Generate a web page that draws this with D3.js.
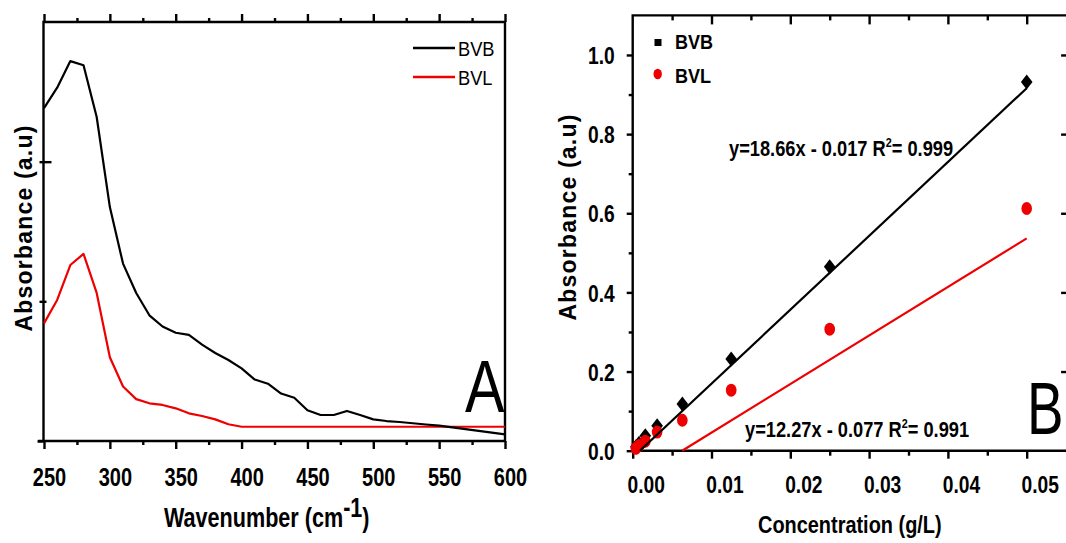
<!DOCTYPE html>
<html>
<head>
<meta charset="utf-8">
<script src="https://cdn.jsdelivr.net/npm/d3@7"></script>
<style>
  html, body { margin: 0; padding: 0; background: #fff; }
  svg { display: block; }
  text { font-family: "Liberation Sans", Arial, sans-serif; fill: #000; }
</style>
</head>
<body>
<script>
// ---------- Panel A: UV-Vis spectra ----------
const wavenumbers = [250, 260, 270, 280, 290, 300, 310, 320, 330, 340, 350, 360, 370, 380, 390, 400,
  410, 420, 430, 440, 450, 460, 470, 480, 490, 500, 510, 520, 530, 540, 550, 560, 570, 580, 590, 600];
const spectrumBVB = [2.384, 2.53, 2.72, 2.69, 2.32, 1.675, 1.27, 1.06, 0.90, 0.82, 0.775, 0.76, 0.69, 0.63, 0.58, 0.52,
  0.44, 0.41, 0.34, 0.31, 0.22, 0.186, 0.186, 0.215, 0.186, 0.155, 0.143, 0.136, 0.127, 0.118, 0.11, 0.097, 0.085, 0.072, 0.06, 0.048];
const spectrumBVL = [0.842, 1.01, 1.26, 1.34, 1.06, 0.60, 0.39, 0.30, 0.27, 0.258, 0.234, 0.198, 0.179, 0.155, 0.12, 0.102,
  0.102, 0.102, 0.102, 0.102, 0.102, 0.102, 0.102, 0.102, 0.102, 0.102, 0.102, 0.102, 0.102, 0.102, 0.102, 0.102, 0.102, 0.102, 0.102, 0.102];
const wnMajorTicks = [250, 300, 350, 400, 450, 500, 550, 600];
const wnMinorTicks = [275, 325, 375, 425, 475, 525, 575];
const absTicksA = [0, 1, 2];

// ---------- Panel B: calibration ----------
const concentrations = [0.0004, 0.0008, 0.0016, 0.0031, 0.0063, 0.0125, 0.025, 0.05];
const calibBVB = [0.010, 0.019, 0.038, 0.063, 0.118, 0.232, 0.465, 0.932];
const calibBVL = [0.006, 0.013, 0.024, 0.047, 0.077, 0.153, 0.307, 0.612];
const fitSlopes = [18.66, 12.27];
const fitIntercepts = [-0.017, -0.077];
const fitR2 = [0.999, 0.991];
const concMajorTicks = [0, 0.01, 0.02, 0.03, 0.04, 0.05];
const concMinorTicks = [0.005, 0.015, 0.025, 0.035, 0.045];
const concTickLabels = ["0.00", "0.01", "0.02", "0.03", "0.04", "0.05"];
const absMajorTicksB = [0, 0.2, 0.4, 0.6, 0.8, 1.0];
const absMinorTicksB = [0.1, 0.3, 0.5, 0.7, 0.9];
const seriesNames = ["BVB", "BVL"];
const seriesColors = ["#000000", "#ee0000"];

const SX = 0.8;          // horizontal condensing of the typeface
const AXIS_W = 2.4;
const FONT = '"Liberation Sans", Arial, sans-serif';

const svg = d3.select("body").append("svg").attr("width", 1066).attr("height", 543);

function styleAxis(g) {
  g.select(".domain").remove();
  g.selectAll(".tick line").attr("stroke", "#000").attr("stroke-width", AXIS_W);
}
function hText(parent, x, y, str, size, weight, sx = SX, anchor = "start") {
  return parent.append("text")
    .attr("transform", `translate(${x},${y}) scale(${sx},1)`)
    .attr("text-anchor", anchor)
    .style("font-size", size + "px")
    .style("font-weight", weight)
    .text(str);
}

// ===== Panel A =====
const xA = d3.scaleLinear().domain([250, 600]).range([44, 505]);
const yA = d3.scaleLinear().domain([0, 3]).range([441, 22]);
const gA = svg.append("g");

// bottom axis, major + minor ticks
const axA = gA.append("g").attr("transform", `translate(0,${yA(0)})`)
  .call(d3.axisBottom(xA).tickValues(wnMajorTicks).tickSize(8).tickSizeOuter(0).tickFormat(d3.format("d")));
styleAxis(axA);
axA.selectAll(".tick text")
  .attr("transform", `scale(${SX},1)`).attr("x", 5 / SX).attr("y", 45).attr("dy", 0)
  .style("font-size", "25px").style("font-weight", "bold").style("font-family", FONT).attr("fill", "#000");
styleAxis(gA.append("g").attr("transform", `translate(0,${yA(0)})`)
  .call(d3.axisBottom(xA).tickValues(wnMinorTicks).tickSize(4).tickSizeOuter(0).tickFormat("")));
// top axis, ticks pointing outward
styleAxis(gA.append("g").attr("transform", `translate(0,${yA.range()[1]})`)
  .call(d3.axisTop(xA).tickValues(wnMajorTicks).tickSize(8).tickSizeOuter(0).tickFormat("")));
styleAxis(gA.append("g").attr("transform", `translate(0,${yA.range()[1]})`)
  .call(d3.axisTop(xA).tickValues(wnMinorTicks).tickSize(4).tickSizeOuter(0).tickFormat("")));
// left axis, crossing ticks without labels
const lyA = gA.append("g").attr("transform", `translate(${xA.range()[0] - 0.5},0)`)
  .call(d3.axisLeft(yA).tickValues(absTicksA).tickSize(6).tickSizeOuter(0).tickFormat(""));
styleAxis(lyA);
lyA.selectAll(".tick line").attr("x2", d => d === 0 ? -6 : -4).attr("x1", d => d === 2 ? 8 : (d === 1 ? 3 : 0));

// frame
gA.append("path")
  .attr("d", `M${xA.range()[0] - 0.5},${yA(0)}V${yA.range()[1]}H${xA.range()[1]}V${yA(0)}H${xA.range()[0] - 6}`)
  .attr("fill", "none").attr("stroke", "#000").attr("stroke-width", AXIS_W);

// spectra
const lineA = d3.line().x((d, i) => xA(wavenumbers[i])).y(d => yA(d));
[spectrumBVL, spectrumBVB].forEach((s, k) => {
  gA.append("path").datum(s).attr("d", lineA)
    .attr("fill", "none").attr("stroke", k === 0 ? seriesColors[1] : seriesColors[0])
    .attr("stroke-width", 2.2).attr("stroke-linejoin", "round");
});

// legend
seriesNames.forEach((name, i) => {
  const y = 48 + i * 29;
  gA.append("line").attr("x1", 413).attr("x2", 455).attr("y1", y).attr("y2", y)
    .attr("stroke", seriesColors[i]).attr("stroke-width", 2.4);
  hText(gA, 458, y + 8, name, 21, "normal", 0.87);
});

// axis titles
const tA = gA.append("text")
  .attr("transform", `translate(164,527) scale(${SX},1)`)
  .style("font-size", "27px").style("font-weight", "bold");
tA.append("tspan").text("Wavenumber (cm");
tA.append("tspan").attr("dy", -10).text("-1");
tA.append("tspan").attr("dy", 10).text(")");

gA.append("text")
  .attr("transform", "translate(32,228) rotate(-90)")
  .attr("text-anchor", "middle")
  .style("font-size", "23px").style("font-weight", "bold").style("letter-spacing", "1.2px")
  .text("Absorbance (a.u)");

hText(gA, 465, 412, "A", 74, "normal");

// ===== Panel B =====
const xB = d3.scaleLinear().domain([0, 0.055]).range([632.7, 1066.1]);
const yB = d3.scaleLinear().domain([0, 1.1]).range([450.7, 15.4]);
const gB = svg.append("g");

const axB = gB.append("g").attr("transform", `translate(0,${yB(0)})`)
  .call(d3.axisBottom(xB).tickValues(concMajorTicks).tickSize(8).tickSizeOuter(0)
    .tickFormat((d, i) => concTickLabels[i]));
styleAxis(axB);
axB.selectAll(".tick text")
  .attr("transform", `scale(${SX},1)`).attr("x", 13 / SX).attr("y", 42).attr("dy", 0)
  .style("font-size", "24px").style("font-weight", "bold").style("font-family", FONT).attr("fill", "#000");
styleAxis(gB.append("g").attr("transform", `translate(0,${yB(0)})`)
  .call(d3.axisBottom(xB).tickValues(concMinorTicks).tickSize(5).tickSizeOuter(0).tickFormat("")));
// top axis with inward ticks
styleAxis(gB.append("g").attr("transform", `translate(0,${yB.range()[1]})`)
  .call(d3.axisBottom(xB).tickValues(concMajorTicks.slice(1)).tickSize(9).tickSizeOuter(0).tickFormat("")));
styleAxis(gB.append("g").attr("transform", `translate(0,${yB.range()[1]})`)
  .call(d3.axisBottom(xB).tickValues(concMinorTicks).tickSize(5).tickSizeOuter(0).tickFormat("")));
// left axis
const lyB = gB.append("g").attr("transform", `translate(${xB.range()[0]},0)`)
  .call(d3.axisLeft(yB).tickValues(absMajorTicksB).tickSize(6).tickSizeOuter(0).tickFormat(d3.format(".1f")));
styleAxis(lyB);
lyB.selectAll(".tick text")
  .attr("transform", `scale(${SX},1)`).attr("x", -18 / SX).attr("dy", "0.36em")
  .style("font-size", "24px").style("font-weight", "bold").style("font-family", FONT).attr("fill", "#000");
styleAxis(gB.append("g").attr("transform", `translate(${xB.range()[0]},0)`)
  .call(d3.axisLeft(yB).tickValues(absMinorTicksB).tickSize(4).tickSizeOuter(0).tickFormat("")));
// right axis ticks (pointing inward)
styleAxis(gB.append("g").attr("transform", `translate(${xB.range()[1]},0)`)
  .call(d3.axisRight(yB).tickValues(absMajorTicksB.slice(1)).tickSize(-5).tickSizeOuter(0).tickFormat("")));

gB.append("path")
  .attr("d", `M${xB.range()[1]},${yB.range()[1]}H${xB.range()[0]}V${yB(0)}H${xB.range()[1]}`)
  .attr("fill", "none").attr("stroke", "#000").attr("stroke-width", AXIS_W);

// calibration points
const diamond = (cx, cy) => `M${cx},${cy - 7.5}L${cx + 5.8},${cy}L${cx},${cy + 7.5}L${cx - 5.8},${cy}Z`;
gB.append("g").selectAll("path").data(calibBVB).join("path")
  .attr("d", (d, i) => diamond(xB(concentrations[i]), yB(d))).attr("fill", seriesColors[0]);
gB.append("g").selectAll("ellipse").data(calibBVL).join("ellipse")
  .attr("cx", (d, i) => xB(concentrations[i])).attr("cy", d => yB(d))
  .attr("rx", 5.3).attr("ry", 6.5).attr("fill", seriesColors[1]);

// linear fits from the stated equations, starting where they leave the x axis
fitSlopes.forEach((m, i) => {
  const b = fitIntercepts[i];
  const x0 = Math.max(0, -b / m);
  const x1 = d3.max(concentrations);
  gB.append("line")
    .attr("x1", xB(x0)).attr("y1", yB(m * x0 + b))
    .attr("x2", xB(x1)).attr("y2", yB(m * x1 + b))
    .attr("stroke", seriesColors[i]).attr("stroke-width", 2.2);
});

// fit equations
const eqPos = [[729, 156], [745, 437]];
fitSlopes.forEach((m, i) => {
  const t = gB.append("text")
    .attr("transform", `translate(${eqPos[i][0]},${eqPos[i][1]}) scale(0.83,1)`)
    .style("font-size", "22px").style("font-weight", "bold");
  t.append("tspan").text(`y=${m.toFixed(2)}x - ${Math.abs(fitIntercepts[i]).toFixed(3)} R`);
  t.append("tspan").attr("dy", -9).style("font-size", "13px").text("2");
  t.append("tspan").attr("dy", 9).text(`= ${fitR2[i].toFixed(3)}`);
});

// legend
gB.append("rect").attr("x", 654.5).attr("y", 39).attr("width", 7).attr("height", 7).attr("fill", seriesColors[0]);
gB.append("ellipse").attr("cx", 657.7).attr("cy", 74).attr("rx", 4.2).attr("ry", 5.2).attr("fill", seriesColors[1]);
seriesNames.forEach((name, i) => hText(gB, 675, 48.5 + i * 34.5, name, 21, "bold", 0.86));

// axis titles
hText(gB, 758, 533, "Concentration (g/L)", 24, "bold", 0.83);
gB.append("text")
  .attr("transform", "translate(576,217) rotate(-90)")
  .attr("text-anchor", "middle")
  .style("font-size", "23px").style("font-weight", "bold").style("letter-spacing", "1.2px")
  .text("Absorbance (a.u)");

hText(gB, 1027, 433.5, "B", 74, "normal", 0.74);
</script>
</body>
</html>
